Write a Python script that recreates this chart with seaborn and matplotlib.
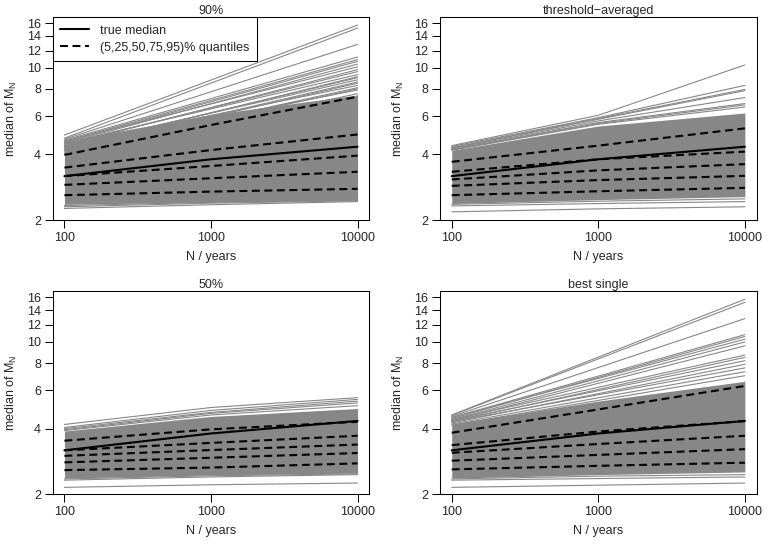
import matplotlib
matplotlib.use("Agg")
import matplotlib.pyplot as plt
import numpy as np
import pandas as pd
import seaborn as sns
from matplotlib.lines import Line2D
from matplotlib.ticker import FixedFormatter, FixedLocator, NullLocator

# return periods (years)
N_YEARS = [100, 1000, 10000]
TRUE_MEDIAN = [3.18, 3.80, 4.34]
Q_LABELS = ["5%", "25%", "50%", "75%", "95%"]

# --- 90% ---
P90_Q = [
    [2.60, 2.70, 2.78],
    [2.90, 3.11, 3.33],
    [3.18, 3.54, 3.95],
    [3.48, 4.19, 4.94],
    [3.98, 5.46, 7.36],
]
P90_L100 = [4.91, 4.75, 4.70, 4.65, 4.60, 4.55, 4.50, 4.60, 4.40, 4.45, 4.50, 4.30,
            4.35, 4.20, 4.40, 4.10, 4.30, 4.00, 4.20, 4.25, 4.15, 4.05, 2.26, 2.30, 2.33]
P90_L1000 = [8.78, 8.50, 7.76, 7.22, 7.08, 6.98, 6.84, 6.82, 6.57, 6.54, 6.47, 6.22,
             6.19, 6.01, 6.04, 5.76, 5.83, 5.51, 5.58, 6.20, 5.94, 5.69, 2.35, 2.39, 2.41]
P90_L10000 = [15.7, 15.2, 12.8, 11.2, 10.9, 10.7, 10.4, 10.1, 9.8, 9.6, 9.3, 9.0,
              8.8, 8.6, 8.3, 8.1, 7.9, 7.6, 7.4, 9.1, 8.5, 8.0, 2.43, 2.45, 2.47]
P90_CORE_LO = [2.36, 2.42, 2.47]
P90_CORE_HI = [4.60, 6.10, 7.50]

# --- threshold-averaged ---
PTA_Q = [
    [2.60, 2.71, 2.81],
    [2.87, 3.05, 3.19],
    [3.07, 3.38, 3.61],
    [3.33, 3.80, 4.12],
    [3.70, 4.39, 5.27],
]
PTA_L100 = [4.39, 4.35, 4.30, 4.28, 4.25, 4.22, 4.20, 4.18, 2.18, 2.32, 2.36]
PTA_L1000 = [6.05, 5.90, 5.85, 5.80, 5.70, 5.60, 5.55, 5.50, 2.25, 2.38, 2.44]
PTA_L10000 = [10.3, 8.3, 7.95, 7.85, 7.3, 6.85, 6.75, 6.6, 2.30, 2.43, 2.50]
PTA_CORE_LO = [2.38, 2.48, 2.56]
PTA_CORE_HI = [4.18, 5.40, 6.20]

# --- 50% ---
P50_Q = [
    [2.58, 2.65, 2.77],
    [2.80, 2.94, 3.09],
    [3.00, 3.19, 3.38],
    [3.18, 3.44, 3.71],
    [3.52, 3.97, 4.30],
]
P50_L100 = [4.18, 4.05, 4.00, 3.95, 3.92, 2.15, 2.32, 2.35]
P50_L1000 = [5.00, 4.85, 4.75, 4.70, 4.62, 2.21, 2.40, 2.43]
P50_L10000 = [5.55, 5.45, 5.35, 5.25, 5.10, 2.25, 2.46, 2.48]
P50_CORE_LO = [2.37, 2.45, 2.50]
P50_CORE_HI = [3.90, 4.55, 4.95]

# --- best single ---
PBS_Q = [
    [2.60, 2.70, 2.79],
    [2.85, 3.03, 3.22],
    [3.10, 3.40, 3.71],
    [3.36, 3.88, 4.33],
    [3.83, 4.90, 6.28],
]
PBS_L100 = [4.62, 4.60, 4.55, 4.50, 4.45, 4.50, 4.40, 4.35, 4.40, 4.30, 4.35, 4.25,
            4.30, 4.20, 4.15, 2.15, 2.32, 2.35]
PBS_L1000 = [8.52, 8.36, 7.63, 6.97, 6.87, 6.80, 6.63, 6.46, 6.19, 6.05, 5.97, 5.79,
             5.72, 5.54, 5.39, 2.20, 2.36, 2.42]
PBS_L10000 = [15.7, 15.2, 12.8, 10.8, 10.6, 10.3, 10.0, 9.6, 8.7, 8.5, 8.2, 7.9,
              7.6, 7.3, 7.0, 2.25, 2.40, 2.46]
PBS_CORE_LO = [2.37, 2.46, 2.53]
PBS_CORE_HI = [4.20, 5.35, 6.60]

Y_TICKS = [2, 4, 6, 8, 10, 12, 14, 16]
X_TICKS = [100, 1000, 10000]

GREY = "#878787"
FS = 9

sns.set_style("ticks")
plt.rcParams["font.family"] = ["Liberation Sans", "DejaVu Sans"]


def draw_panel(ax, title, quants, l100, l1000, l10000, core_lo, core_hi):
    ax.set_xscale("log")
    ax.set_yscale("log")

    ax.fill_between(N_YEARS, core_lo, core_hi, color=GREY, lw=0, zorder=1)

    n = len(l100)
    lines_df = pd.DataFrame({
        "N": np.tile(N_YEARS, n),
        "value": np.column_stack([l100, l1000, l10000]).ravel(),
        "run": np.repeat(np.arange(n), 3),
    })
    sns.lineplot(data=lines_df, x="N", y="value", units="run", estimator=None,
                 color=GREY, lw=0.8, ax=ax, legend=False, zorder=2)

    q_df = pd.DataFrame({
        "N": np.tile(N_YEARS, len(quants)),
        "value": np.array(quants).ravel(),
        "q": np.repeat(Q_LABELS, 3),
    })
    sns.lineplot(data=q_df, x="N", y="value", units="q", estimator=None,
                 color="black", lw=1.5, ls=(0, (3.8, 2.2)), ax=ax,
                 legend=False, zorder=3)

    sns.lineplot(x=N_YEARS, y=TRUE_MEDIAN, color="black", lw=1.5, ax=ax,
                 legend=False, zorder=4)

    ax.set_xlim(10 ** 1.92, 10 ** 4.08)
    ax.set_ylim(2, 17.1)
    ax.xaxis.set_major_locator(FixedLocator(X_TICKS))
    ax.xaxis.set_major_formatter(FixedFormatter([str(t) for t in X_TICKS]))
    ax.xaxis.set_minor_locator(NullLocator())
    ax.yaxis.set_major_locator(FixedLocator(Y_TICKS))
    ax.yaxis.set_major_formatter(FixedFormatter([str(t) for t in Y_TICKS]))
    ax.yaxis.set_minor_locator(NullLocator())
    ax.tick_params(direction="out", length=5.5, width=0.75, labelsize=FS,
                   pad=3, color="black")
    for sp in ax.spines.values():
        sp.set_linewidth(0.75)
        sp.set_color("black")

    ax.set_title(title, fontsize=FS, pad=2)
    ax.set_xlabel("N / years", fontsize=FS, labelpad=5)
    ax.set_ylabel("median of $\\mathregular{M_N}$", fontsize=FS, labelpad=6)


fig = plt.figure(figsize=(7.74, 5.48), dpi=100)
W, H = 774, 548
pw, ph = 316.6 / W, 203.0 / H
ax1 = fig.add_axes([52.7 / W, 1 - 220 / H, pw, ph])
ax2 = fig.add_axes([440 / W, 1 - 220 / H, pw, ph])
ax3 = fig.add_axes([52.7 / W, 1 - 494.2 / H, pw, ph])
ax4 = fig.add_axes([440 / W, 1 - 494.2 / H, pw, ph])

draw_panel(ax1, "90%", P90_Q, P90_L100, P90_L1000, P90_L10000, P90_CORE_LO, P90_CORE_HI)
draw_panel(ax2, "threshold\u2212averaged", PTA_Q, PTA_L100, PTA_L1000, PTA_L10000,
           PTA_CORE_LO, PTA_CORE_HI)
draw_panel(ax3, "50%", P50_Q, P50_L100, P50_L1000, P50_L10000, P50_CORE_LO, P50_CORE_HI)
draw_panel(ax4, "best single", PBS_Q, PBS_L100, PBS_L1000, PBS_L10000,
           PBS_CORE_LO, PBS_CORE_HI)

handles = [
    Line2D([], [], color="black", lw=1.5),
    Line2D([], [], color="black", lw=1.5, ls=(0, (3.8, 2.2))),
]
leg = ax1.legend(handles, ["true median", "(5,25,50,75,95)% quantiles"],
                 loc="upper left", bbox_to_anchor=(0, 1), borderaxespad=0,
                 frameon=True, fancybox=False, edgecolor="black", framealpha=1,
                 fontsize=FS, handlelength=2.3, handletextpad=0.9,
                 borderpad=0.6, labelspacing=0.4)
leg.get_frame().set_linewidth(0.75)
leg.set_zorder(10)

fig.savefig("out.png", dpi=100)
